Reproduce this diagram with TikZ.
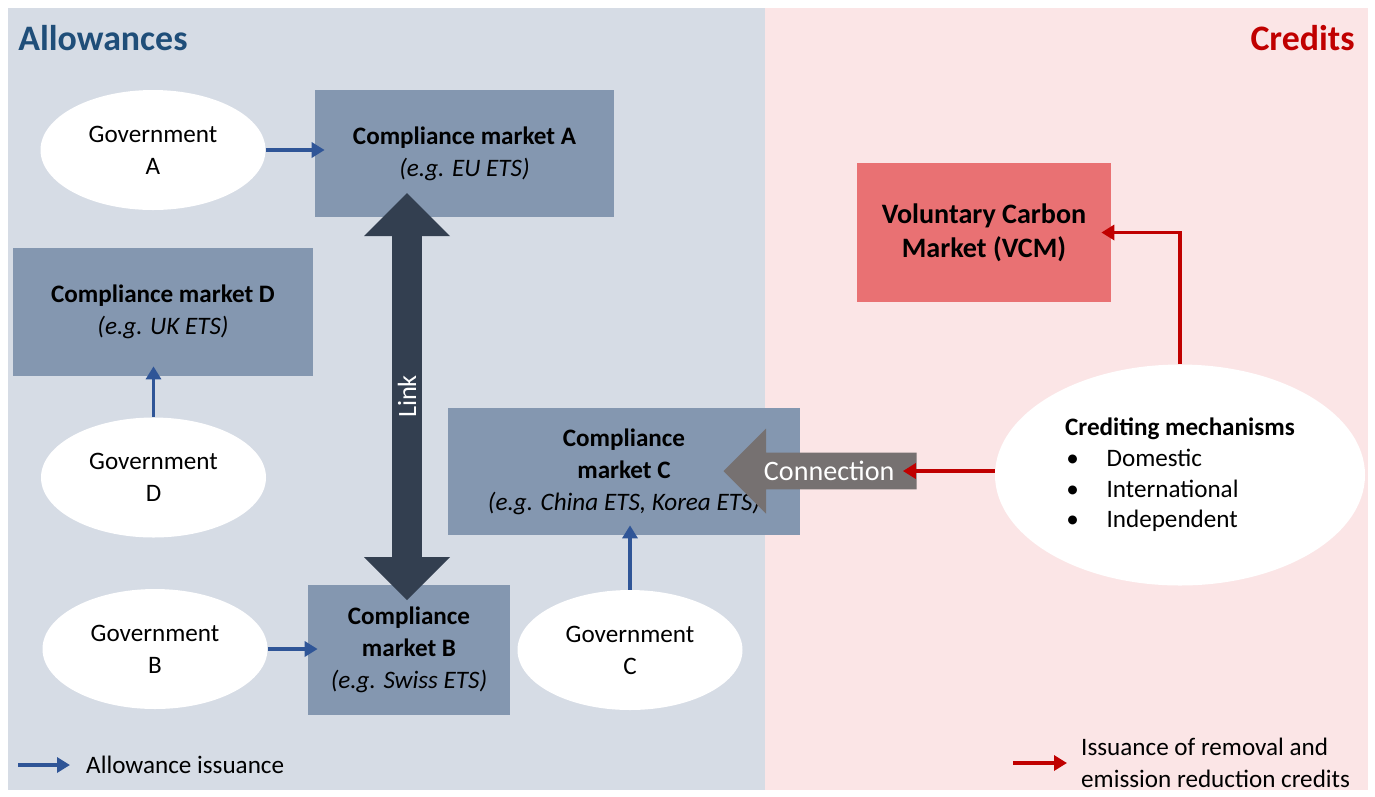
\documentclass[tikz,border=0pt]{standalone}
\usepackage{fontspec}
\setmainfont{Carlito}
\usetikzlibrary{arrows.meta,shapes.arrows,shapes.geometric}
\definecolor{allowbg}{HTML}{D6DCE5}
\definecolor{creditbg}{HTML}{FBE5E6}
\definecolor{mktfill}{HTML}{8497B0}
\definecolor{linkfill}{HTML}{333F50}
\definecolor{connfill}{HTML}{767171}
\definecolor{vcmfill}{HTML}{E97173}
\definecolor{issueblue}{HTML}{2F5597}
\definecolor{creditred}{HTML}{C00000}
\definecolor{titleblue}{HTML}{1F4E79}
\begin{document}
\begin{tikzpicture}[every node/.style={font=\fontsize{14.3}{18.2}\selectfont},
  gov/.style={ellipse, fill=white, align=center, minimum width=4.5cm, minimum height=2.4cm},
  market/.style={fill=mktfill, align=center, inner sep=0pt},
  issue/.style={draw=issueblue, line width=2pt, shorten >=-0.2cm, -{Triangle[length=0.26cm,width=0.3cm]}},
  credit/.style={draw=creditred, line width=2pt, shorten >=-0.2cm, -{Triangle[length=0.26cm,width=0.3cm]}}]
\useasboundingbox (0,0) rectangle (27.5,-15.92);
\fill[white] (0,0) rectangle (27.5,-15.92);
\fill[allowbg] (0.16,-0.16) rectangle (15.3,-15.8);
\fill[creditbg] (15.3,-0.16) rectangle (27.36,-15.8);

\node[anchor=west, inner sep=0pt, font=\fontsize{20.4}{24}\selectfont\bfseries, text=titleblue] (tallow) at (0.36,-0.76) {Allowances};
\node[anchor=east, inner sep=0pt, font=\fontsize{20.4}{24}\selectfont\bfseries, text=creditred] (tcred) at (27.1,-0.76) {Credits};

\node[gov] (govA) at (3.06,-3.0) {Government\\A};
\node[gov] (govD) at (3.07,-9.55) {Government\\D};
\node[gov] (govB) at (3.1,-12.98) {Government\\B};
\node[gov] (govC) at (12.6,-13.0) {Government\\C};

\node[market, minimum width=5.98cm, minimum height=2.54cm] (mktA) at (9.29,-3.07) {\textbf{Compliance market A}\\\textit{(e.g. EU ETS)}};
\node[market, minimum width=6.0cm, minimum height=2.56cm] (mktD) at (3.26,-6.24) {\textbf{Compliance market D}\\\textit{(e.g. UK ETS)}};
\node[market, minimum width=7.04cm, minimum height=2.54cm] (mktC) at (12.48,-9.43) {\textbf{Compliance}\\\textbf{market C}\\\textit{(e.g. China ETS, Korea ETS)}};
\node[market, minimum width=4.04cm, minimum height=2.6cm] (mktB) at (8.18,-13.0) {\textbf{Compliance}\\\textbf{market B}\\\textit{(e.g. Swiss ETS)}};

\node[fill=vcmfill, align=center, minimum width=5.08cm, minimum height=2.78cm, font=\fontsize{16}{19.3}\selectfont\bfseries] (vcm) at (19.68,-4.65) {Voluntary Carbon\\Market (VCM)};
\node[ellipse, fill=white, align=left, minimum width=7.4cm, minimum height=4.42cm, font=\fontsize{14.3}{17.5}\selectfont] (cred) at (23.6,-9.5)
  {\textbf{Crediting mechanisms}\\\hspace*{0.05em}•\hspace{1.1em}Domestic\\\hspace*{0.05em}•\hspace{1.1em}International\\\hspace*{0.05em}•\hspace{1.1em}Independent};

\node[double arrow, rotate=90, fill=linkfill, text=white, minimum height=8.14cm, minimum width=1.72cm, double arrow head extend=0.43cm, inner sep=1pt, font=\fontsize{15}{17}\selectfont] (link) at (8.14,-7.93) {Link};
\node[single arrow, shape border rotate=180, anchor=tip, fill=connfill, text=white, minimum height=3.86cm, minimum width=1.7cm, single arrow head extend=0.42cm, inner xsep=1pt, font=\fontsize{16}{19}\selectfont] (conn) at (14.46,-9.42) {Connection};

\draw[issue] (govA) -- (govA -| mktA.west);
\draw[issue] (govD) -- (govD |- mktD.south);
\draw[issue] (govB) -- (govB -| mktB.west);
\draw[issue] (govC) -- (govC |- mktC.south);

\draw[credit, shorten >=-0.28cm] (conn.tail -| cred.west) -- (conn.tail);
\draw[credit] (cred.north) |- (vcm.east);

\coordinate (legA) at (0.36,-15.3);
\node[anchor=west] (legAtext) at (1.6,-15.3) {Allowance issuance};
\draw[issue, shorten >=0.2cm] (legA) -- (legAtext.west);
\coordinate (legC) at (20.26,-15.26);
\node[anchor=west, align=left] (legCtext) at (21.5,-15.26) {Issuance of removal and\\emission reduction credits};
\draw[credit, shorten >=0.16cm] (legC) -- (legCtext.west);
\end{tikzpicture}
\end{document}
